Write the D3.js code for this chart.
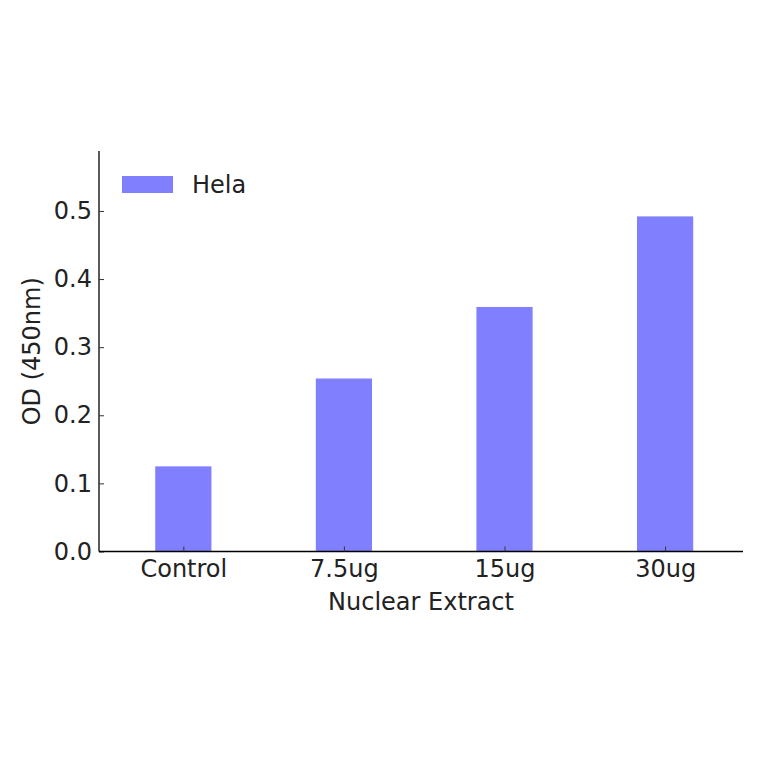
<!DOCTYPE html>
<html lang="en">
<head>
<meta charset="utf-8">
<title>OD (450nm) by nuclear extract</title>
<script src="https://cdn.jsdelivr.net/npm/d3@7"></script>
<style>
  body { margin: 0; background: #fff; }
  text { font-family: "DejaVu Sans", sans-serif; fill: #222; }
</style>
</head>
<body>
<script>
// data
var categories = ["Control", "7.5ug", "15ug", "30ug"];
var helaValues = [0.125, 0.254, 0.359, 0.492];
var yTicks = [0.0, 0.1, 0.2, 0.3, 0.4, 0.5];
var seriesName = "Hela";

var w = 764, h = 764;
// plot box (note: "top" is taken by window.top, so use other names)
var plotLeft = 99, plotRight = 743, plotTop = 151, plotBottom = 551.5;
var fontSize = "24px";

var svg = d3.select("body").append("svg")
    .attr("width", w)
    .attr("height", h);

// scales: bars sit at integer positions, axis runs a little past them
var xScale = d3.scaleLinear()
    .domain([-0.525, categories.length - 0.515])
    .range([plotLeft, plotRight]);

var yScale = d3.scaleLinear()
    .domain([0, 0.588])
    .range([plotBottom, plotTop]);

var barWidth = xScale(0.35) - xScale(0);

// bars
svg.selectAll("rect.bar")
   .data(helaValues)
   .enter()
   .append("rect")
   .attr("class", "bar")
   .attr("x", function(d, i) { return xScale(i) - barWidth / 2; })
   .attr("y", function(d) { return yScale(d); })
   .attr("width", barWidth)
   .attr("height", function(d) { return yScale(0) - yScale(d); })
   .attr("fill", "#8080ff");

// y axis (ticks inward)
var yAxis = d3.axisLeft(yScale)
    .tickValues(yTicks)
    .tickFormat(d3.format(".1f"))
    .tickSizeInner(-5)
    .tickSizeOuter(0)
    .tickPadding(7);

var gy = svg.append("g")
    .attr("transform", "translate(" + plotLeft + ",0)")
    .call(yAxis);
gy.select(".domain").attr("stroke", "#000").attr("stroke-width", 1.3)
  .attr("d", "M0," + plotTop + "V" + plotBottom);
gy.selectAll(".tick line").attr("stroke", "#333");
gy.selectAll(".tick text").attr("font-size", fontSize).attr("fill", "#222");

// x axis (ticks inward)
var xAxis = d3.axisBottom(xScale)
    .tickValues(d3.range(categories.length))
    .tickFormat(function(i) { return categories[i]; })
    .tickSizeInner(-5)
    .tickSizeOuter(0)
    .tickPadding(8);

var gx = svg.append("g")
    .attr("transform", "translate(0," + plotBottom + ")")
    .call(xAxis);
gx.select(".domain").attr("stroke", "#000").attr("stroke-width", 1.3)
  .attr("d", "M" + plotLeft + ",0H" + plotRight);
gx.selectAll(".tick line").attr("stroke", "#333");
gx.selectAll(".tick text").attr("font-size", fontSize).attr("fill", "#222");

// axis labels
svg.append("text")
   .attr("text-anchor", "middle")
   .attr("x", (plotLeft + plotRight) / 2)
   .attr("y", 610)
   .attr("font-size", fontSize)
   .text("Nuclear Extract");

svg.append("text")
   .attr("text-anchor", "middle")
   .attr("transform", "translate(40," + (plotTop + plotBottom) / 2 + ") rotate(-90)")
   .attr("font-size", fontSize)
   .text("OD (450nm)");

// legend
var legend = svg.append("g").attr("transform", "translate(122,176)");
legend.append("rect")
   .attr("width", 51)
   .attr("height", 17)
   .attr("fill", "#8080ff");
legend.append("text")
   .attr("x", 70)
   .attr("y", 16.5)
   .attr("font-size", fontSize)
   .text(seriesName);
</script>
</body>
</html>
